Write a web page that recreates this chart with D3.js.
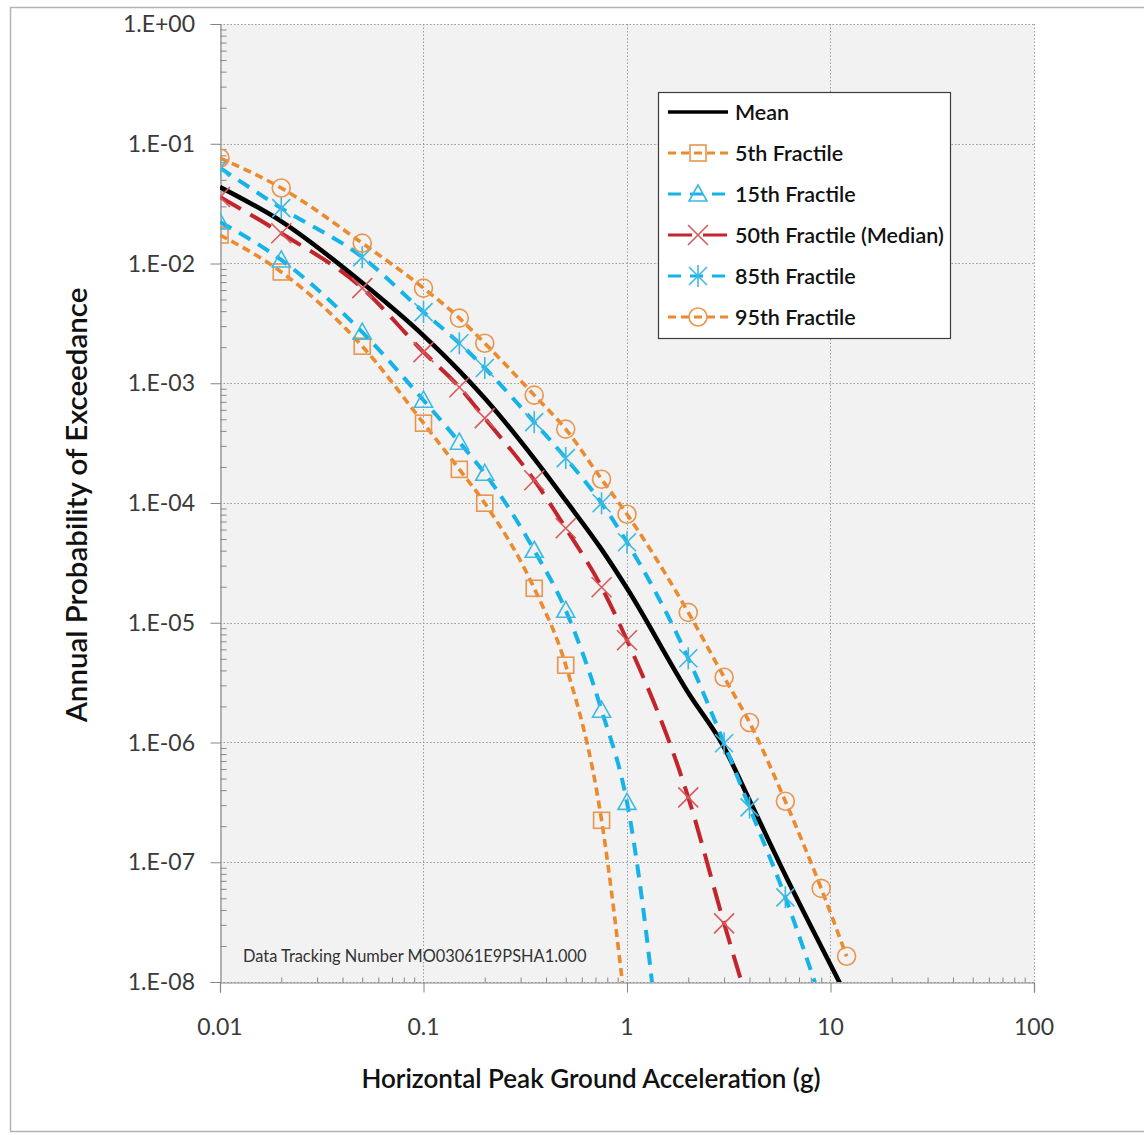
<!DOCTYPE html>
<html>
<head>
<meta charset="utf-8">
<script src="https://cdn.jsdelivr.net/npm/d3@7/dist/d3.min.js"></script>
<style>
  html, body { margin: 0; padding: 0; background: #ffffff; }
  svg { display: block; font-family: Lato, "Open Sans", sans-serif; }
</style>
</head>
<body>
<svg id="chart" width="1144" height="1135"></svg>
<script>
// Horizontal PGA values (g) at which the hazard curves are sampled
const pga = [0.01, 0.02, 0.05, 0.1, 0.15, 0.2, 0.35, 0.5, 0.75, 1, 2, 3, 4, 6, 9, 12];

// Annual probability of exceedance for each curve
const meanCurve = [4.35e-2, 2.25e-2, 6.9e-3, 2.5e-3, 1.27e-3, 7.5e-4, 2.35e-4, 1.05e-4, 4.1e-5, 1.94e-5, 2.6e-6, 9.1e-7, 3.3e-7, 7.8e-8, 1.98e-8, 7.6e-9];
const frac05 = [1.73e-2, 8.5e-3, 2.04e-3, 4.64e-4, 1.91e-4, 9.96e-5, 1.94e-5, 4.42e-6, 2.24e-7, 4.6e-9, null, null, null, null, null, null];
const frac15 = [2.22e-2, 1.07e-2, 2.67e-3, 7.22e-4, 3.22e-4, 1.77e-4, 4.03e-5, 1.27e-5, 1.86e-6, 3.16e-7, 8.1e-12, null, null, null, null, null];
const frac50 = [3.59e-2, 1.79e-2, 6.23e-3, 1.82e-3, 9.27e-4, 5.11e-4, 1.55e-4, 6.16e-5, 1.98e-5, 7.14e-6, 3.48e-7, 3.09e-8, 6.0e-9, null, null, null];
const frac85 = [6.3e-2, 2.9e-2, 1.13e-2, 3.93e-3, 2.16e-3, 1.34e-3, 4.73e-4, 2.37e-4, 9.96e-5, 4.7e-5, 5.05e-6, 9.85e-7, 2.87e-7, 5.09e-8, 6.9e-9, null];
const frac95 = [7.6e-2, 4.27e-2, 1.48e-2, 6.23e-3, 3.5e-3, 2.16e-3, 7.96e-4, 4.14e-4, 1.58e-4, 8.06e-5, 1.22e-5, 3.51e-6, 1.47e-6, 3.23e-7, 6.05e-8, 1.64e-8];

// Axis tick values and labels
const xTicks = [0.01, 0.1, 1, 10, 100];
const xTickLabels = ["0.01", "0.1", "1", "10", "100"];
const yTicks = [1, 1e-1, 1e-2, 1e-3, 1e-4, 1e-5, 1e-6, 1e-7, 1e-8];
const yTickLabels = ["1.E+00", "1.E-01", "1.E-02", "1.E-03", "1.E-04", "1.E-05", "1.E-06", "1.E-07", "1.E-08"];

const seriesNames = ["Mean", "5th Fractile", "15th Fractile", "50th Fractile (Median)", "85th Fractile", "95th Fractile"];

// Drawing styles per series
const styles = [
  { values: meanCurve, line: "#000000", width: 4.6, dash: null, marker: null, mk: null },
  { values: frac05, line: "#EB8A2E", width: 3.6, dash: "8,5", marker: "square", mk: "#E8954E" },
  { values: frac15, line: "#15B3E8", width: 4, dash: "13,9", marker: "triangle", mk: "#3CB9E2" },
  { values: frac50, line: "#C2252B", width: 4, dash: "24,11", marker: "cross", mk: "#D65A5E" },
  { values: frac85, line: "#15B3E8", width: 4, dash: "13,9", marker: "star", mk: "#3CB9E2" },
  { values: frac95, line: "#EB8A2E", width: 3.6, dash: "8,5", marker: "circle", mk: "#E8954E" }
];

const svg = d3.select("#chart");

// Outer chart frame
svg.append("rect")
  .attr("x", 10.5).attr("y", 7.5)
  .attr("width", 1150).attr("height", 1124)
  .attr("fill", "#ffffff").attr("stroke", "#b4b4b4").attr("stroke-width", 1.5);

const plotL = 220, plotR = 1034, plotT = 24, plotB = 982;

const x = d3.scaleLog().domain([0.01, 100]).range([plotL, plotR]);
const y = d3.scaleLog().domain([1e-8, 1]).range([plotB, plotT]);

// Plot area background
svg.append("rect")
  .attr("x", plotL).attr("y", plotT)
  .attr("width", plotR - plotL).attr("height", plotB - plotT)
  .attr("fill", "#f2f2f2");

// Dotted major gridlines
const grid = svg.append("g");
grid.selectAll("line.h").data(yTicks).join("line").attr("class", "h")
  .attr("x1", plotL).attr("x2", plotR)
  .attr("y1", d => Math.round(y(d)) + 0.5).attr("y2", d => Math.round(y(d)) + 0.5)
  .attr("stroke", "#9a9a9a").attr("stroke-width", 1).attr("stroke-dasharray", "1.5,2");
grid.selectAll("line.v").data(xTicks.slice(1)).join("line").attr("class", "v")
  .attr("y1", plotT).attr("y2", plotB)
  .attr("x1", d => Math.round(x(d)) + 0.5).attr("x2", d => Math.round(x(d)) + 0.5)
  .attr("stroke", "#9a9a9a").attr("stroke-width", 1).attr("stroke-dasharray", "1.5,2");

// Minor tick values (2..9 within each decade)
const minorX = [], minorY = [];
for (let e = -2; e < 2; e++) for (let m = 2; m <= 9; m++) minorX.push(m * Math.pow(10, e));
for (let e = -8; e < 0; e++) for (let m = 2; m <= 9; m++) minorY.push(m * Math.pow(10, e));

const axisColor = "#868686";

// Y axis: major ticks outward, minor ticks inward
const yAxis = d3.axisLeft(y).tickValues(yTicks).tickSize(10).tickFormat("");
const gy = svg.append("g").attr("transform", `translate(${plotL + 0.5},0)`).call(yAxis);
gy.select(".domain").attr("stroke", axisColor).attr("stroke-width", 1.2);
gy.selectAll(".tick line").attr("stroke", axisColor);
const yMinor = d3.axisRight(y).tickValues(minorY).tickSize(6).tickFormat("");
const gym = svg.append("g").attr("transform", `translate(${plotL + 0.5},0)`).call(yMinor);
gym.select(".domain").remove();
gym.selectAll(".tick line").attr("stroke", axisColor);

// X axis: major ticks outward, minor ticks inward
const xAxis = d3.axisBottom(x).tickValues(xTicks).tickSize(10).tickFormat("");
const gx = svg.append("g").attr("transform", `translate(0,${plotB + 0.5})`).call(xAxis);
gx.select(".domain").attr("stroke", axisColor).attr("stroke-width", 1.2);
gx.selectAll(".tick line").attr("stroke", axisColor);
const xMinor = d3.axisTop(x).tickValues(minorX).tickSize(5).tickFormat("");
const gxm = svg.append("g").attr("transform", `translate(0,${plotB + 0.5})`).call(xMinor);
gxm.select(".domain").remove();
gxm.selectAll(".tick line").attr("stroke", axisColor);

// Tick labels
svg.append("g").selectAll("text").data(yTicks).join("text")
  .attr("x", 195).attr("y", d => y(d))
  .attr("dy", "0.35em").attr("text-anchor", "end")
  .attr("font-size", 23).attr("fill", "#3a3a3a")
  .text((d, i) => yTickLabels[i]);
svg.append("g").selectAll("text").data(xTicks).join("text")
  .attr("x", d => x(d)).attr("y", 1035)
  .attr("text-anchor", "middle")
  .attr("font-size", 23).attr("fill", "#3a3a3a")
  .text((d, i) => xTickLabels[i]);

// Axis titles
svg.append("text")
  .attr("x", 591).attr("y", 1088)
  .attr("text-anchor", "middle").attr("font-size", 26).attr("font-weight", 600)
  .attr("fill", "#111")
  .text("Horizontal Peak Ground Acceleration (g)");
svg.append("text")
  .attr("transform", "translate(87,505) rotate(-90)")
  .attr("text-anchor", "middle").attr("font-size", 29.5).attr("font-weight", 600)
  .attr("fill", "#111")
  .text("Annual Probability of Exceedance");

// Data tracking note
svg.append("text")
  .attr("x", 243).attr("y", 962)
  .attr("font-size", 16.4).attr("fill", "#333")
  .text("Data Tracking Number MO03061E9PSHA1.000");

// Clip curves to the plot area
svg.append("defs").append("clipPath").attr("id", "plotClip")
  .append("rect").attr("x", plotL).attr("y", plotT)
  .attr("width", plotR - plotL).attr("height", plotB - plotT);

const line = d3.line()
  .defined(d => d.p != null)
  .x(d => x(d.g)).y(d => y(d.p))
  .curve(d3.curveMonotoneX);

// Marker shapes centred at 0,0
function drawMarker(g, type, color) {
  const sw = 1.6;
  if (type === "square") {
    g.append("rect").attr("x", -8).attr("y", -8).attr("width", 16).attr("height", 16)
      .attr("fill", "none").attr("stroke", color).attr("stroke-width", sw);
  } else if (type === "triangle") {
    g.append("path").attr("d", "M0,-9 L9,7 L-9,7 Z")
      .attr("fill", "none").attr("stroke", color).attr("stroke-width", sw);
  } else if (type === "cross") {
    g.append("path").attr("d", "M-10,-10 L10,10 M10,-10 L-10,10")
      .attr("fill", "none").attr("stroke", color).attr("stroke-width", sw);
  } else if (type === "star") {
    g.append("path").attr("d", "M-9,-9 L9,9 M9,-9 L-9,9 M0,-11 L0,11")
      .attr("fill", "none").attr("stroke", color).attr("stroke-width", sw);
  } else if (type === "circle") {
    g.append("circle").attr("r", 9)
      .attr("fill", "none").attr("stroke", color).attr("stroke-width", sw);
  }
}

const plot = svg.append("g").attr("clip-path", "url(#plotClip)");

styles.forEach(s => {
  const pts = pga.map((g, i) => ({ g, p: s.values[i] }));
  plot.append("path")
    .datum(pts)
    .attr("d", line)
    .attr("fill", "none")
    .attr("stroke", s.line)
    .attr("stroke-width", s.width)
    .attr("stroke-dasharray", s.dash)
    .attr("stroke-linejoin", "round");
  if (s.marker) {
    pts.filter(d => d.p != null).forEach(d => {
      const mg = plot.append("g").attr("transform", `translate(${x(d.g)},${y(d.p)})`);
      drawMarker(mg, s.marker, s.mk);
    });
  }
});

// Legend
const lg = svg.append("g");
lg.append("rect")
  .attr("x", 658.5).attr("y", 92.5).attr("width", 292).attr("height", 246)
  .attr("fill", "#ffffff").attr("stroke", "#3c3c3c").attr("stroke-width", 1.2);
styles.forEach((s, i) => {
  const yy = 112 + i * 41;
  lg.append("line")
    .attr("x1", 668).attr("x2", 728).attr("y1", yy).attr("y2", yy)
    .attr("stroke", s.line).attr("stroke-width", s.marker ? 3.2 : 3.6)
    .attr("stroke-dasharray", s.dash);
  if (s.marker) {
    const mg = lg.append("g").attr("transform", `translate(698,${yy})`);
    drawMarker(mg, s.marker, s.mk);
  }
  lg.append("text")
    .attr("x", 735).attr("y", yy).attr("dy", "0.35em")
    .attr("font-size", 21.5).attr("font-weight", 600).attr("fill", "#111")
    .text(seriesNames[i]);
});
</script>
</body>
</html>
